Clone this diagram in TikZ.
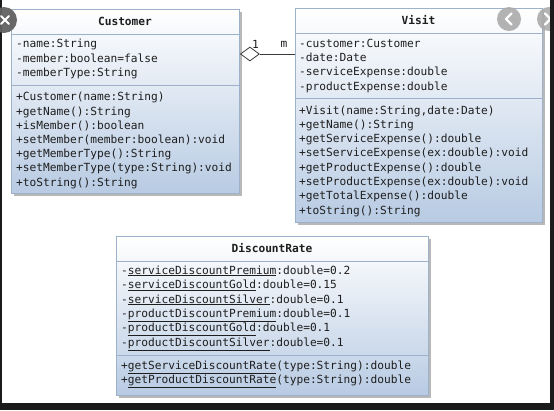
\documentclass[tikz,border=0pt]{standalone}
\usepackage{fontspec}
\setmonofont{DejaVu Sans Mono}
\usetikzlibrary{shapes.geometric,shadows}
\definecolor{boxbot}{HTML}{B8CBE3}
\definecolor{boxline}{HTML}{9DB1CA}
\definecolor{txt}{HTML}{1E1E1E}
\definecolor{framec}{HTML}{1B1B1B}
\definecolor{conn}{HTML}{3A3A3A}
\begin{document}
\begin{tikzpicture}[x=1pt,y=-1pt,
  umlbox/.style={draw=boxline, line width=1pt, top color=white, bottom color=boxbot,
    anchor=north west, inner sep=0pt,
    drop shadow={shadow xshift=2pt, shadow yshift=-2pt, fill=black!28, opacity=1}},
  divline/.style={draw=boxline, line width=1pt},
  ln/.style={anchor=base west, inner sep=0pt, font=\ttfamily\fontsize{11.2}{13}\selectfont, text=txt},
  ttl/.style={anchor=base, inner sep=0pt, font=\ttfamily\bfseries\fontsize{11.2}{13}\selectfont, text=txt},
  mult/.style={anchor=center, inner sep=0pt, font=\ttfamily\fontsize{11.2}{13}\selectfont, text=txt},
]
\useasboundingbox (0,0) rectangle (554,410);
\fill[white] (0,0) rectangle (554,410);

% ---------- Customer ----------
\node[umlbox, minimum width=228pt, minimum height=184pt] (cust) at (11,9) {};
\draw[divline] (cust.west |- 0,34) -- (cust.east |- 0,34);
\draw[divline] (cust.west |- 0,85) -- (cust.east |- 0,85);
\node[ttl] (custT) at (125,25.5) {Customer};
\node[ln] (c1) at (16,47.3) {-name:String};
\node[ln] (c2) at (16,62) {-member:boolean=false};
\node[ln] (c3) at (16,76.7) {-memberType:String};
\node[ln] (c4) at (16,100.8) {+Customer(name:String)};
\node[ln] (c5) at (16,115) {+getName():String};
\node[ln] (c6) at (16,129.2) {+isMember():boolean};
\node[ln] (c7) at (16,143.4) {+setMember(member:boolean):void};
\node[ln] (c8) at (16,157.6) {+getMemberType():String};
\node[ln] (c9) at (16,171.8) {+setMemberType(type:String):void};
\node[ln] (c10) at (16,186) {+toString():String};

% ---------- Visit ----------
\node[umlbox, minimum width=247pt, minimum height=214pt] (visit) at (295,8) {};
\draw[divline] (visit.west |- 0,33) -- (visit.east |- 0,33);
\draw[divline] (visit.west |- 0,98) -- (visit.east |- 0,98);
\node[ttl] (visitT) at (418.5,24) {Visit};
\node[ln] (v1) at (299,47.3) {-customer:Customer};
\node[ln] (v2) at (299,61.6) {-date:Date};
\node[ln] (v3) at (299,75.9) {-serviceExpense:double};
\node[ln] (v4) at (299,90.2) {-productExpense:double};
\node[ln] (v5) at (299,114) {+Visit(name:String,date:Date)};
\node[ln] (v6) at (299,128.3) {+getName():String};
\node[ln] (v7) at (299,142.6) {+getServiceExpense():double};
\node[ln] (v8) at (299,156.9) {+setServiceExpense(ex:double):void};
\node[ln] (v9) at (299,171.2) {+getProductExpense():double};
\node[ln] (v10) at (299,185.5) {+setProductExpense(ex:double):void};
\node[ln] (v11) at (299,199.8) {+getTotalExpense():double};
\node[ln] (v12) at (299,214.1) {+toString():String};

% ---------- DiscountRate ----------
\node[umlbox, minimum width=312pt, minimum height=159pt] (disc) at (116,236) {};
\draw[divline] (disc.west |- 0,261) -- (disc.east |- 0,261);
\draw[divline] (disc.west |- 0,355) -- (disc.east |- 0,355);
\node[ttl] (discT) at (272,252.3) {DiscountRate};
\node[ln] (d1) at (121,274) {-\underline{serviceDiscountPremium}:double=0.2};
\node[ln] (d2) at (121,288.5) {-\underline{serviceDiscountGold}:double=0.15};
\node[ln] (d3) at (121,303) {-\underline{serviceDiscountSilver}:double=0.1};
\node[ln] (d4) at (121,317.4) {-\underline{productDiscountPremium}:double=0.1};
\node[ln] (d5) at (121,331.8) {-\underline{productDiscountGold}:double=0.1};
\node[ln] (d6) at (121,346.2) {-\underline{productDiscountSilver}:double=0.1};
\node[ln] (d7) at (121,369) {+\underline{getServiceDiscountRate}(type:String):double};
\node[ln] (d8) at (121,383) {+\underline{getProductDiscountRate}(type:String):double};

% ---------- aggregation ----------
\node[diamond, draw=conn, fill=white, line width=0.8pt, inner sep=0pt,
      minimum width=19pt, minimum height=14pt, anchor=west] (dia) at (cust.east |- 0,54) {};
\draw[conn, line width=0.8pt] (dia.east) -- (visit.west |- dia.east);
\node[mult] (m1) at (255.5,44.5) {1};
\node[mult] (m2) at (284,44.5) {m};

% ---------- screenshot overlays ----------
\fill[black!33, opacity=0.9] (509,19) circle (12);
\draw[white, line width=2.2pt, line cap=round, line join=round] (511.5,13.5) -- (506,19) -- (511.5,24.5);
\fill[black!33, opacity=0.9] (549,19) circle (12);
\draw[white, line width=2.2pt, line cap=round, line join=round] (545,13.5) -- (550.5,19) -- (545,24.5);

\fill[framec] (0,0) rectangle (2,410);
\fill[framec] (550,0) rectangle (554,410);
\fill[framec] (0,403) rectangle (554,410);

\fill[black!62, opacity=0.95] (4,20) circle (13);
\draw[white, line width=2pt, line cap=round] (1,16) -- (9,24) (1,24) -- (9,16);
\end{tikzpicture}
\end{document}
